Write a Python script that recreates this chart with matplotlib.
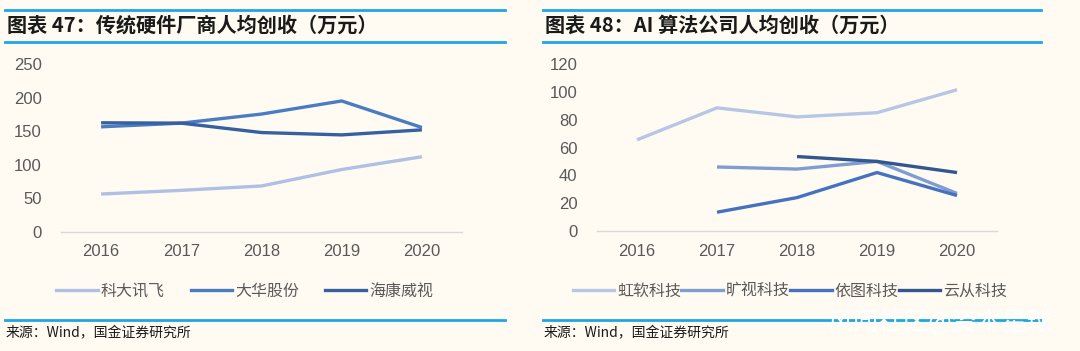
import matplotlib
matplotlib.use("Agg")
import matplotlib.pyplot as plt
import numpy as np
from matplotlib.lines import Line2D

plt.rcParams['font.family'] = ['Liberation Sans', 'Noto Sans CJK SC', 'DejaVu Sans']
CJK = ['Noto Sans CJK SC', 'DejaVu Sans']

years = ['2016', '2017', '2018', '2019', '2020']

left_names = ['科大讯飞', '大华股份', '海康威视']
iflytek = [56.5, 62, 68.5, 93, 112]
dahua = [156.5, 162, 175.5, 195, 155.5]
hikvision = [162.5, 162, 148, 144.5, 152]

right_names = ['虹软科技', '旷视科技', '依图科技', '云从科技']
arcsoft = [65.5, 88.5, 82, 85, 101.5]
megvii = [np.nan, 46, 44.5, 50, 27]
yitu = [np.nan, 13.5, 24, 42, 25.5]
cloudwalk = [np.nan, np.nan, 53.5, 50, 42]

left_title = '图表 47：传统硬件厂商人均创收（万元）'
right_title = '图表 48：AI 算法公司人均创收（万元）'
source = '来源：Wind，国金证券研究所'

left_colors = ['#AEC0E3', '#4A7CC3', '#36609F']
right_colors = ['#B6C6E5', '#7F9DD2', '#4472C0', '#30578F']

W, H = 1080, 351
bg = '#FFFBF2'
fig = plt.figure(figsize=(W / 100, H / 100), dpi=100, facecolor=bg)

def px_axes(x0, x1, ytop, ybot):
    return fig.add_axes([x0 / W, 1 - ybot / H, (x1 - x0) / W, (ybot - ytop) / H])

def style(ax, ymax, step):
    ax.set_facecolor('none')
    for s in ['top', 'right', 'left']:
        ax.spines[s].set_visible(False)
    ax.spines['bottom'].set_color('#D9D9D9')
    ax.spines['bottom'].set_linewidth(1.0)
    ax.set_ylim(0, ymax)
    ax.set_yticks(np.arange(0, ymax + 1, step))
    ax.set_xlim(-0.5, 4.5)
    ax.set_xticks(range(len(years)))
    ax.set_xticklabels(years)
    ax.tick_params(axis='both', length=0, labelsize=12, colors='#595959')
    ax.tick_params(axis='x', pad=9)
    ax.tick_params(axis='y', pad=14)

x = np.arange(len(years))
lw = 2.4

axL = px_axes(61, 462, 64, 232)
for vals, c in zip([iflytek, dahua, hikvision], left_colors):
    axL.plot(x, vals, color=c, lw=lw, solid_capstyle='butt')
style(axL, 250, 50)

axR = px_axes(597, 997, 64, 231)
for vals, c in zip([arcsoft, megvii, yitu, cloudwalk], right_colors):
    axR.plot(x, vals, color=c, lw=lw, solid_capstyle='butt')
style(axR, 120, 20)

# legends
handlesL = [Line2D([0], [0], color=c, lw=lw) for c in left_colors]
fig.legend(handlesL, left_names, loc='center', bbox_to_anchor=(245 / W, 1 - 291 / H),
           ncol=3, frameon=False, prop={'family': CJK, 'size': 11.5}, labelcolor='#595959',
           handlelength=2.6, handletextpad=0.2, columnspacing=1.6)
handlesR = [Line2D([0], [0], color=c, lw=lw) for c in right_colors]
fig.legend(handlesR, right_names, loc='center', bbox_to_anchor=(790 / W, 1 - 291 / H),
           ncol=4, frameon=False, prop={'family': CJK, 'size': 11.5}, labelcolor='#595959',
           handlelength=2.6, handletextpad=0.2, columnspacing=0.0)

# titles and rules
blue = '#1CA6E6'
for (x0, x1), title in [((5, 505), left_title), ((543, 1041), right_title)]:
    for yy in (10, 42, 320):
        fig.add_artist(Line2D([x0 / W, x1 / W], [1 - yy / H, 1 - yy / H], color=blue, lw=2.0))
    fig.text((x0 + 2) / W, 1 - 25 / H, title, fontsize=14.5, fontweight='bold',
             color='#1A1A1A', va='center', ha='left', family=CJK)
    fig.text((x0 + 1) / W, 1 - 333 / H, source, fontsize=10, color='#1A1A1A',
             va='center', ha='left', family=CJK)

# watermark
fig.text(1052 / W, 1 - 323 / H, '风闻社区@资本星球', fontsize=18, color='white',
         va='center', ha='right', family=CJK, fontweight='light')

fig.savefig('out.png', dpi=100, facecolor=bg)
